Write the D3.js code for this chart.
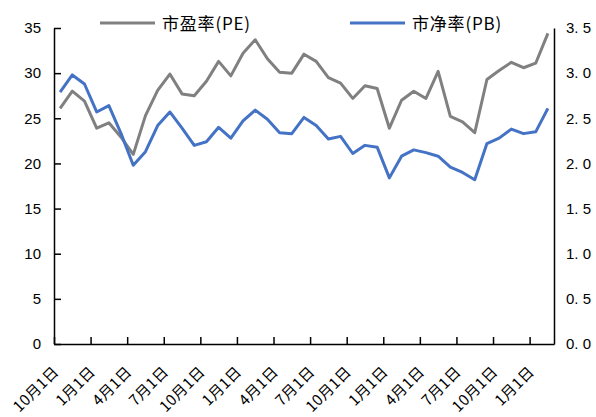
<!DOCTYPE html>
<meta charset="utf-8">
<style>
body { margin: 0; background: #fff; }
.axis path, .axis line { stroke: #000; stroke-width: 1.5px; }
.axis text { font-family: "Liberation Sans", Arial, sans-serif; font-size: 15px; fill: #000; }
.xaxis text { font-family: "Noto Sans CJK SC", sans-serif; font-size: 15px; letter-spacing: 0.3px; }
.peline { fill: none; stroke: #808080; stroke-width: 3px; stroke-linejoin: round; }
.pbline { fill: none; stroke: #4472c4; stroke-width: 3px; stroke-linejoin: round; }
.legend text { font-family: "Noto Sans CJK SC", sans-serif; font-size: 17px; fill: #000; letter-spacing: 0.8px; }
</style>
<body>
<script src="https://cdn.jsdelivr.net/npm/d3@7"></script>
<script>

// monthly values, October of year 1 through February of year 4
var months = ["10月","11月","12月","1月","2月","3月","4月","5月","6月","7月","8月","9月",
              "10月","11月","12月","1月","2月","3月","4月","5月","6月","7月","8月","9月",
              "10月","11月","12月","1月","2月","3月","4月","5月","6月","7月","8月","9月",
              "10月","11月","12月","1月","2月"];

var pe = [26.1, 28.0, 26.9, 23.9, 24.5, 22.9, 21.0, 25.3, 28.1, 29.9, 27.7, 27.5,
          29.1, 31.3, 29.7, 32.2, 33.7, 31.6, 30.1, 30.0, 32.1, 31.3, 29.5, 28.9,
          27.2, 28.6, 28.3, 23.9, 27.0, 28.0, 27.2, 30.2, 25.2, 24.6, 23.4, 29.3,
          30.3, 31.2, 30.6, 31.1, 34.4];

var pb = [2.79, 2.98, 2.88, 2.57, 2.64, 2.33, 1.98, 2.13, 2.42, 2.57, 2.39, 2.20,
          2.24, 2.40, 2.28, 2.47, 2.59, 2.49, 2.34, 2.33, 2.51, 2.42, 2.27, 2.30,
          2.11, 2.20, 2.18, 1.84, 2.08, 2.15, 2.12, 2.08, 1.96, 1.90, 1.82, 2.22,
          2.28, 2.38, 2.33, 2.35, 2.61];

// x tick labels, one per quarter (at band edges every 3 months)
var tickIdx = [0, 3, 6, 9, 12, 15, 18, 21, 24, 27, 30, 33, 36, 39];
var tickLabels = ["10月1日","1月1日","4月1日","7月1日","10月1日","1月1日","4月1日",
                  "7月1日","10月1日","1月1日","4月1日","7月1日","10月1日","1月1日"];

var leftTicks = [0, 5, 10, 15, 20, 25, 30, 35];
var rightTicks = [0, 0.5, 1.0, 1.5, 2.0, 2.5, 3.0, 3.5];

var seriesNames = ["市盈率(PE)", "市净率(PB)"];

var W = 596, H = 417;
var plotL = 54, plotR = 554, plotT = 28, plotB = 344;

var svg = d3.select("body").append("svg")
    .attr("width", W)
    .attr("height", H);

// scales
var x = d3.scaleLinear().domain([0, months.length]).range([plotL, plotR]);
var yL = d3.scaleLinear().domain([0, 35]).range([plotB, plotT]);
var yR = d3.scaleLinear().domain([0, 3.5]).range([plotB, plotT]);

// lines
var peLine = d3.line()
    .x(function(d, i) { return x(i + 0.5); })
    .y(function(d) { return yL(d); });
var pbLine = d3.line()
    .x(function(d, i) { return x(i + 0.5); })
    .y(function(d) { return yR(d); });

svg.append("path").datum(pe).attr("class", "peline").attr("d", peLine);
svg.append("path").datum(pb).attr("class", "pbline").attr("d", pbLine);

// left axis
svg.append("g")
    .attr("class", "axis")
    .attr("transform", "translate(" + plotL + ",0)")
    .call(d3.axisLeft(yL).tickValues(leftTicks).tickSize(-7).tickSizeOuter(0).tickPadding(13));

// right axis, no tick marks
svg.append("g")
    .attr("class", "axis")
    .attr("transform", "translate(" + plotR + ",0)")
    .call(d3.axisRight(yR).tickValues(rightTicks).tickSize(0).tickPadding(12)
      .tickFormat(function(d) { return d3.format(".1f")(d).replace(".", ". "); }));

// bottom axis
var xAxis = svg.append("g")
    .attr("class", "axis xaxis")
    .attr("transform", "translate(0," + plotB + ")")
    .call(d3.axisBottom(x).tickValues(tickIdx).tickSize(-7).tickSizeOuter(0)
      .tickFormat(function(d, i) { return tickLabels[i]; }));

xAxis.selectAll("text")
    .attr("x", 0).attr("y", 0).attr("dy", 0)
    .attr("transform", "translate(5,29) rotate(-45)")
    .style("text-anchor", "end");

// legend
var legend = svg.append("g").attr("class", "legend");
var legX = [100, 350];
var legCls = ["peline", "pbline"];
seriesNames.forEach(function(name, i) {
  legend.append("line")
      .attr("class", legCls[i])
      .attr("x1", legX[i]).attr("x2", legX[i] + 55)
      .attr("y1", 23).attr("y2", 23);
  legend.append("text")
      .attr("x", legX[i] + 62)
      .attr("y", 30)
      .text(name);
});

</script>
</body>
